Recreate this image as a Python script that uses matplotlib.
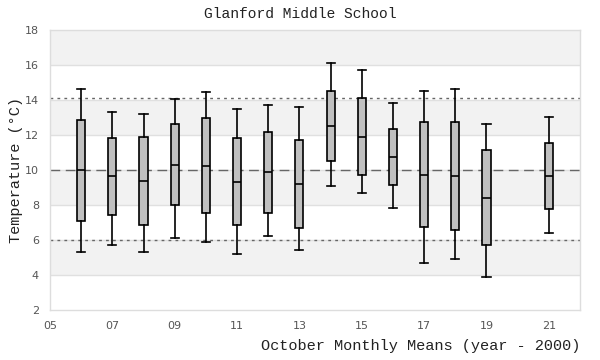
import matplotlib
matplotlib.use("Agg")
import matplotlib.pyplot as plt

# October monthly means, one box per year (year - 2000)
years = [6, 7, 8, 9, 10, 11, 12, 13, 14, 15, 16, 17, 18, 19, 21]
whislo = [5.30, 5.70, 5.30, 6.10, 5.87, 5.18, 6.21, 5.41, 9.07, 8.67, 7.81, 4.67, 4.90, 3.87, 6.38]
q1 = [7.07, 7.41, 6.84, 7.98, 7.53, 6.84, 7.53, 6.67, 10.50, 9.70, 9.13, 6.73, 6.55, 5.70, 7.75]
med = [10.00, 9.64, 9.35, 10.27, 10.21, 9.30, 9.87, 9.18, 12.50, 11.87, 10.73, 9.70, 9.64, 8.38, 9.64]
q3 = [12.84, 11.81, 11.87, 12.61, 12.95, 11.81, 12.15, 11.70, 14.50, 14.10, 12.33, 12.73, 12.73, 11.13, 11.53]
whishi = [14.65, 13.30, 13.18, 14.08, 14.48, 13.47, 13.70, 13.58, 16.10, 15.70, 13.81, 14.50, 14.61, 12.61, 13.01]

overall_mean = 9.99
upper_band = 14.12
lower_band = 5.98

xticks = [5, 7, 9, 11, 13, 15, 17, 19, 21]
yticks = [2, 4, 6, 8, 10, 12, 14, 16, 18]

mono = "Liberation Mono"

fig = plt.figure(figsize=(6, 3.6), dpi=100)
ax = fig.add_axes([50/600, 50/360, 530/600, 280/360])

# alternating background bands
for i in range(len(yticks) - 1):
    if i % 2 == 1:
        ax.axhspan(yticks[i], yticks[i+1], color="#f2f2f2", zorder=0, lw=0)
for y in yticks[1:-1]:
    ax.axhline(y, color="#e0e0e0", lw=1, zorder=1)

ax.axhline(overall_mean, color="#666666", lw=1, ls=(0, (7, 4)), zorder=2)
ax.axhline(upper_band, color="#666666", lw=1, ls=(0, (2, 3)), zorder=2)
ax.axhline(lower_band, color="#666666", lw=1, ls=(0, (2, 3)), zorder=2)

stats = []
for i in range(len(years)):
    stats.append({"whislo": whislo[i], "q1": q1[i], "med": med[i],
                  "q3": q3[i], "whishi": whishi[i], "fliers": []})

ax.bxp(stats, positions=years, widths=0.26, patch_artist=True, showfliers=False,
       boxprops=dict(facecolor="#c0c0c0", edgecolor="black", lw=1.2),
       medianprops=dict(color="black", lw=1.2),
       whiskerprops=dict(color="black", lw=1.2),
       capprops=dict(color="black", lw=1.2),
       capwidths=0.26, zorder=3)

ax.set_xlim(5, 22)
ax.set_ylim(2, 18)
ax.set_xticks(xticks)
ax.set_xticklabels(["%02d" % t for t in xticks])
ax.set_yticks(yticks)
ax.set_yticklabels([str(t) for t in yticks])
ax.tick_params(length=0, labelsize=8, labelcolor="#555555", pad=8)
for s in ax.spines.values():
    s.set_color("#dddddd")
    s.set_linewidth(1)

fig.suptitle("Glanford Middle School", family=mono, fontsize=10.5, y=1 - 14/360, va="center", color="#222222")
ax.set_xlabel("October Monthly Means (year - 2000)", family=mono, fontsize=11, color="#222222")
ax.xaxis.set_label_coords(1.0, -0.105)
ax.xaxis.label.set_horizontalalignment("right")
ax.set_ylabel("Temperature (°C)", family=mono, fontsize=11, color="#222222")
ax.yaxis.set_label_coords(-0.05, 0.5)

fig.savefig("out.png", dpi=100)
